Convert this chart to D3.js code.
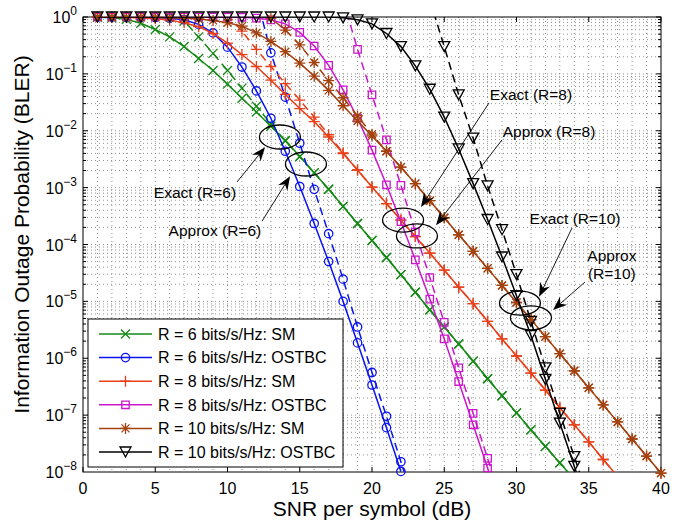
<!DOCTYPE html>
<html>
<head>
<meta charset="utf-8">
<script src="https://cdn.jsdelivr.net/npm/d3@7"></script>
<style>
  body { margin: 0; background: #fff; }
  text { font-family: "Liberation Sans", Arial, Helvetica, sans-serif; fill: #000; }
</style>
</head>
<body>
<div id="chart"></div>
<script>
// values are log10(BLER), one per dB starting at the given SNR
const smR6ExactFrom = 1
const smR6Exact = [-0.005,-0.015,-0.04,-0.11,-0.22,-0.35,-0.52,-0.73,-0.94,-1.18,-1.43,-1.67,-1.92,-2.17,-2.45,-2.74,-3.03,-3.33,-3.63,-3.93,-4.23,-4.53,-4.84,-5.15,-5.45,-5.75,-6.05,-6.36,-6.66,-6.96,-7.26,-7.55,-7.84,-8.13]
const smR6ApproxFrom = 6
const smR6Approx = [0.2,-0.07,-0.35,-0.64,-0.94,-1.25,-1.57,-1.88,-2.18,-2.46,-2.74,-3.03,-3.33,-3.63,-3.93,-4.23,-4.53,-4.84,-5.15,-5.45,-5.75,-6.05,-6.36,-6.66,-6.96,-7.26,-7.55,-7.84,-8.13]

const osR6ExactFrom = 1
const osR6Exact = [0,0,-0.001,-0.003,-0.008,-0.02,-0.05,-0.13,-0.28,-0.53,-0.88,-1.30,-1.78,-2.36,-2.98,-3.63,-4.30,-5.0,-5.73,-6.47,-7.22,-7.99]
const osR6ApproxFrom = 12
const osR6Approx = [0.37,-0.63,-1.41,-2.22,-3.03,-3.81,-4.61,-5.45,-6.25,-7.02,-7.82,-8.6]

const smR8ExactFrom = 1
const smR8Exact = [-0.001,-0.003,-0.007,-0.015,-0.03,-0.055,-0.1,-0.17,-0.29,-0.46,-0.66,-0.87,-1.11,-1.36,-1.61,-1.84,-2.11,-2.40,-2.69,-2.99,-3.28,-3.57,-3.86,-4.15,-4.45,-4.75,-5.04,-5.35,-5.66,-5.96,-6.26,-6.56,-6.87,-7.17,-7.47,-7.78,-8.08]
const smR8ApproxFrom = 10
const smR8Approx = [0.05,-0.25,-0.57,-0.87,-1.17,-1.46,-1.76,-2.07,-2.39,-2.69,-2.99,-3.28,-3.57,-3.86,-4.15,-4.45,-4.75,-5.04,-5.35,-5.66,-5.96,-6.26,-6.56,-6.87,-7.17,-7.47,-7.78,-8.08]

const osR8ExactFrom = 1
const osR8Exact = [0,0,0,0,0,0,0,0,-0.001,-0.002,-0.005,-0.02,-0.05,-0.12,-0.27,-0.51,-0.85,-1.28,-1.78,-2.34,-2.95,-3.6,-4.27,-4.96,-5.66,-6.41,-7.17,-7.93,-8.7]
const osR8ApproxFrom = 18
const osR8Approx = [0.3,-0.57,-1.37,-2.16,-2.96,-3.78,-4.58,-5.37,-6.17,-6.97,-7.76,-8.55]

const smR10ExactFrom = 1
const smR10Exact = [0,-0.001,-0.002,-0.004,-0.007,-0.012,-0.02,-0.035,-0.06,-0.1,-0.16,-0.28,-0.43,-0.61,-0.81,-1.04,-1.29,-1.56,-1.83,-2.09,-2.36,-2.64,-2.93,-3.23,-3.53,-3.83,-4.12,-4.42,-4.72,-5.02,-5.32,-5.62,-5.92,-6.22,-6.52,-6.82,-7.12,-7.42,-7.72,-8.02]
const smR10ApproxFrom = 12
const smR10Approx = [0.22,-0.02,-0.23,-0.49,-0.8,-1.12,-1.42,-1.74,-2.06,-2.36,-2.64,-2.93,-3.23,-3.53,-3.83,-4.12,-4.42,-4.72,-5.02,-5.32,-5.62,-5.92,-6.22,-6.52,-6.82,-7.12,-7.42,-7.72,-8.02]

const osR10ExactFrom = 1
const osR10Exact = [0,0,0,0,0,0,0,0,0,0,0,0,0,0,0,0,0,-0.015,-0.05,-0.12,-0.29,-0.52,-0.86,-1.27,-1.76,-2.32,-2.93,-3.56,-4.22,-4.9,-5.6,-6.37,-7.14,-7.9,-8.66]
const osR10ApproxFrom = 24
const osR10Approx = [0.3,-0.52,-1.37,-2.13,-2.97,-3.74,-4.53,-5.35,-6.17,-6.97,-7.73,-8.5]

const legendLabels = ["R = 6 bits/s/Hz: SM","R = 6 bits/s/Hz: OSTBC","R = 8 bits/s/Hz: SM","R = 8 bits/s/Hz: OSTBC","R = 10 bits/s/Hz: SM","R = 10 bits/s/Hz: OSTBC"]
const colors = ["#168a16","#0a14f0","#e8401a","#cc16cc","#a3410f","#000000"]
const markers = ["x","o","+","s","*","v"]

const xTicks = [0,5,10,15,20,25,30,35,40]
const yExponents = [0,-1,-2,-3,-4,-5,-6,-7,-8]

// annotations, in data units: [snr, log10(BLER)]
const ellipses = [[13.63,-2.11],[15.43,-2.585],[22.15,-3.57],[23.11,-3.85],[30.24,-5.03],[31.0,-5.29]]
const arrows = [
  [[10.66,-2.90],[12.6,-2.29]],
  [[12.39,-3.59],[14.33,-2.80]],
  [[28.1,-1.51],[23.39,-3.34]],
  [[29.0,-2.16],[24.43,-3.66]],
  [[33.84,-3.71],[31.56,-4.92]],
  [[34.74,-4.66],[32.53,-5.15]]
]
const notes = [
  ["Exact (R=6)",7.75,-3.08],
  ["Approx (R=6)",9.13,-3.76],
  ["Exact (R=8)",31.0,-1.37],
  ["Approx (R=8)",32.25,-2.02],
  ["Exact (R=10)",34.05,-3.55],
  ["Approx",36.6,-4.185],
  ["(R=10)",36.6,-4.50]
]

const series = [
  [smR6ExactFrom, smR6Exact, smR6ApproxFrom, smR6Approx],
  [osR6ExactFrom, osR6Exact, osR6ApproxFrom, osR6Approx],
  [smR8ExactFrom, smR8Exact, smR8ApproxFrom, smR8Approx],
  [osR8ExactFrom, osR8Exact, osR8ApproxFrom, osR8Approx],
  [smR10ExactFrom, smR10Exact, smR10ApproxFrom, smR10Approx],
  [osR10ExactFrom, osR10Exact, osR10ApproxFrom, osR10Approx]
].map((s, i) => ({
  name: legendLabels[i], color: colors[i], marker: markers[i],
  exact: s[1].map((v, k) => ({snr: s[0] + k, bler: Math.pow(10, v)})),
  approx: s[3].map((v, k) => ({snr: s[2] + k, bler: Math.pow(10, v)}))
}))

let margin = {top: 17, right: 31, bottom: 53, left: 83},
    width = 692 - margin.left - margin.right,
    height = 525 - margin.top - margin.bottom

const svg = d3.select('#chart').append('svg')
    .attr('width', 692).attr('height', 525)
const g = svg.append('g').attr('transform', "translate(" + margin.left + "," + margin.top + ")")

const x = d3.scaleLinear().domain([0, 40]).range([0, width])
const y = d3.scaleLog().domain([1e-8, 1]).range([height, 0])

g.append('clipPath').attr('id', 'plotclip')
  .append('rect').attr('width', width).attr('height', height)

// dotted grid, major and minor
const gridStyle = s => s.attr('stroke', '#777').attr('stroke-width', 0.8).attr('stroke-dasharray', '1,3')
g.append('g').selectAll('line').data(d3.range(1, 40))
  .enter().append('line')
    .attr('x1', d => x(d)).attr('x2', d => x(d)).attr('y1', 0).attr('y2', height)
    .call(gridStyle)
let yGrid = []
for (let e = -8; e < 0; e++) for (let m = 1; m < 10; m++) if (!(e === -8 && m === 1)) yGrid.push(m * Math.pow(10, e))
g.append('g').selectAll('line').data(yGrid)
  .enter().append('line')
    .attr('x1', 0).attr('x2', width).attr('y1', d => y(d)).attr('y2', d => y(d))
    .call(gridStyle)

// ticks inside the box
const tk = g.append('g').attr('stroke', '#000').attr('stroke-width', 1)
xTicks.forEach(t => {
  tk.append('line').attr('x1', x(t)).attr('x2', x(t)).attr('y1', height).attr('y2', height - 5)
  tk.append('line').attr('x1', x(t)).attr('x2', x(t)).attr('y1', 0).attr('y2', 5)
})
yGrid.concat([1]).forEach(v => {
  const major = Math.abs(Math.log10(v) - Math.round(Math.log10(v))) < 1e-9
  const len = major ? 5 : 3
  tk.append('line').attr('x1', 0).attr('x2', len).attr('y1', y(v)).attr('y2', y(v))
  tk.append('line').attr('x1', width).attr('x2', width - len).attr('y1', y(v)).attr('y2', y(v))
})

// tick labels
g.append('g').selectAll('text').data(xTicks)
  .enter().append('text')
    .attr('x', d => x(d)).attr('y', height + 22)
    .attr('text-anchor', 'middle').style('font-size', '16px')
    .text(d => d)
const yl = g.append('g').selectAll('text').data(yExponents)
  .enter().append('text')
    .attr('x', -6).attr('y', d => y(Math.pow(10, d)) + 6)
    .attr('text-anchor', 'end').style('font-size', '16px')
yl.append('tspan').text('10')
yl.append('tspan').attr('dy', -8).style('font-size', '12px').text(d => d === 0 ? '0' : '\u2212' + (-d))

// box
g.append('rect').attr('width', width).attr('height', height)
  .attr('fill', 'none').attr('stroke', '#000').attr('stroke-width', 1)

// axis titles
g.append('text').attr('x', width / 2).attr('y', height + 44)
  .attr('text-anchor', 'middle').style('font-size', '21px').text('SNR per symbol (dB)')
g.append('text').attr('transform', 'rotate(-90)')
  .attr('x', -height / 2 + 10).attr('y', -54)
  .attr('text-anchor', 'middle').style('font-size', '21px').text('Information Outage Probability (BLER)')

function markerPath(type) {
  if (type === 'x') return 'M-4.5,-4.5L4.5,4.5M-4.5,4.5L4.5,-4.5'
  if (type === 'o') return 'M4.2,0A4.2,4.2 0 1,1 -4.2,0A4.2,4.2 0 1,1 4.2,0Z'
  if (type === '+') return 'M-5.5,0H5.5M0,-5.5V5.5'
  if (type === 's') return 'M-3.7,-3.7h7.4v7.4h-7.4Z'
  if (type === '*') return 'M-5.5,0H5.5M0,-5.5V5.5M-4,-4L4,4M-4,4L4,-4'
  return 'M-5.5,-5L5.5,-5L0,5Z'
}

const line = d3.line().x(d => x(d.snr)).y(d => y(d.bler))
const plot = g.append('g')
series.forEach(s => {
  [['exact', null], ['approx', '8,5']].forEach(([key, dash]) => {
    plot.append('path')
      .datum(s[key])
      .attr('clip-path', 'url(#plotclip)')
      .attr('fill', 'none').attr('stroke', s.color).attr('stroke-width', 1.5)
      .attr('stroke-dasharray', dash)
      .attr('d', line)
    plot.append('g').selectAll('path')
      .data(s[key].filter(d => d.bler <= 1.0001 && d.bler >= 0.9e-8))
      .enter().append('path')
        .attr('transform', d => 'translate(' + x(d.snr) + ',' + y(d.bler) + ')')
        .attr('d', markerPath(s.marker))
        .attr('fill', 'none').attr('stroke', s.color).attr('stroke-width', 1.3)
  })
})

// ellipses, arrows and notes
const ann = g.append('g')
ellipses.forEach(e => {
  ann.append('ellipse').attr('cx', x(e[0])).attr('cy', y(Math.pow(10, e[1])))
    .attr('rx', 20.5).attr('ry', 12)
    .attr('fill', 'none').attr('stroke', '#000').attr('stroke-width', 1.3)
})
arrows.forEach(a => {
  const x1 = x(a[0][0]), y1 = y(Math.pow(10, a[0][1]))
  const x2 = x(a[1][0]), y2 = y(Math.pow(10, a[1][1]))
  const len = Math.hypot(x2 - x1, y2 - y1), ux = (x2 - x1) / len, uy = (y2 - y1) / len
  const nx = -uy, ny = ux, L = 14, W = 5.5, notch = 4.5
  ann.append('line').attr('x1', x1).attr('y1', y1)
    .attr('x2', x2 - (L - notch) * ux).attr('y2', y2 - (L - notch) * uy)
    .attr('stroke', '#000').attr('stroke-width', 0.9)
  const pts = [[x2, y2], [x2 - L * ux + W * nx, y2 - L * uy + W * ny],
               [x2 - (L - notch) * ux, y2 - (L - notch) * uy], [x2 - L * ux - W * nx, y2 - L * uy - W * ny]]
  ann.append('path').attr('d', 'M' + pts.map(p => p.join(',')).join('L') + 'Z').attr('fill', '#000')
})
notes.forEach(n => {
  ann.append('text').attr('x', x(n[1])).attr('y', y(Math.pow(10, n[2])))
    .attr('dy', '0.36em').attr('text-anchor', 'middle').style('font-size', '15.5px')
    .text(n[0])
})

// legend
const lg = g.append('g').attr('transform', 'translate(5,302)')
lg.append('rect').attr('width', 255).attr('height', 148)
  .attr('fill', '#fff').attr('stroke', '#000').attr('stroke-width', 1)
series.forEach((s, i) => {
  const ry = 15 + i * 23.6
  lg.append('line').attr('x1', 11).attr('x2', 64).attr('y1', ry).attr('y2', ry)
    .attr('stroke', s.color).attr('stroke-width', 1.5)
  lg.append('path').attr('transform', 'translate(37.5,' + ry + ')')
    .attr('d', markerPath(s.marker)).attr('fill', 'none').attr('stroke', s.color).attr('stroke-width', 1.3)
  lg.append('text').attr('x', 70).attr('y', ry).attr('dy', '0.36em')
    .style('font-size', '16px').text(s.name)
})
</script>
</body>
</html>
